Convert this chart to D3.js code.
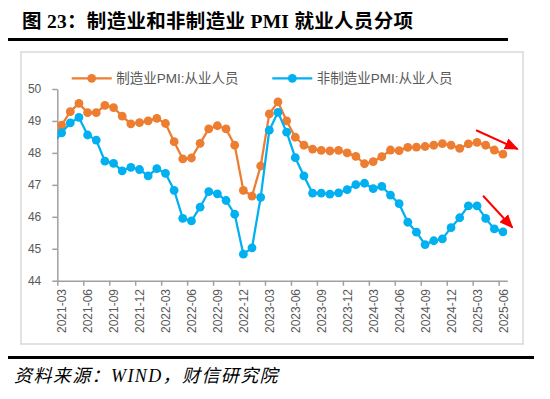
<!DOCTYPE html>
<html>
<head>
<meta charset="utf-8">
<script src="https://cdn.jsdelivr.net/npm/d3@7/dist/d3.min.js"></script>
<style>
	body { margin: 0; background: #fff; }
	text { font-family: "Liberation Sans", "Noto Sans CJK SC", sans-serif; }
</style>
</head>
<body>
<svg id="chart" width="550" height="399"></svg>
<script>
// months from 2021-02 (first one only shows as a clipped segment)
var months = [
	'2021-02', '2021-03', '2021-04', '2021-05', '2021-06', '2021-07', '2021-08', '2021-09', '2021-10', '2021-11', '2021-12',
	'2022-01', '2022-02', '2022-03', '2022-04', '2022-05', '2022-06', '2022-07', '2022-08', '2022-09', '2022-10', '2022-11', '2022-12',
	'2023-01', '2023-02', '2023-03', '2023-04', '2023-05', '2023-06', '2023-07', '2023-08', '2023-09', '2023-10', '2023-11', '2023-12',
	'2024-01', '2024-02', '2024-03', '2024-04', '2024-05', '2024-06', '2024-07', '2024-08', '2024-09', '2024-10', '2024-11', '2024-12',
	'2025-01', '2025-02', '2025-03', '2025-04', '2025-05', '2025-06'
];

var tickLabels = ['2021-03', '2021-06', '2021-09', '2021-12', '2022-03', '2022-06', '2022-09', '2022-12', '2023-03',
	'2023-06', '2023-09', '2023-12', '2024-03', '2024-06', '2024-09', '2024-12', '2025-03', '2025-06'];

var yTicks = [44, 45, 46, 47, 48, 49, 50];

var mfg = [48.45,
	48.87, 49.29, 49.55, 49.26, 49.26, 49.49, 49.42, 49.15, 48.91, 48.95, 49.0, 49.08, 48.92,
	48.35, 47.81, 47.84, 48.3, 48.75, 48.85, 48.75, 48.24, 46.83, 46.65, 47.59, 49.22, 49.6,
	49.0, 48.49, 48.24, 48.12, 48.08, 48.06, 48.08, 48.0, 47.89, 47.66, 47.73, 47.88, 48.09,
	48.07, 48.17, 48.18, 48.2, 48.24, 48.29, 48.24, 48.14, 48.28, 48.33, 48.24, 48.09, 47.96];

var nonMfg = [48.3,
	48.63, 48.94, 49.11, 48.56, 48.4, 47.74, 47.67, 47.44, 47.55, 47.48, 47.28, 47.51, 47.36,
	46.83, 45.95, 45.87, 46.3, 46.79, 46.72, 46.51, 46.08, 44.83, 45.03, 46.61, 48.71, 49.27,
	48.65, 47.85, 47.28, 46.74, 46.74, 46.71, 46.75, 46.85, 47.01, 47.05, 46.88, 46.95, 46.68,
	46.41, 45.83, 45.52, 45.13, 45.25, 45.31, 45.66, 45.97, 46.34, 46.34, 45.95, 45.62, 45.53];

var seriesNames = ['制造业PMI:从业人员', '非制造业PMI:从业人员'];
var seriesColors = ['#ED7D31', '#00B0F0'];

// red trend arrows, in [month index, value]
var arrows = [
	[[48.9, 48.71], [53.7, 48.12]],
	[[49.7, 46.66], [53.1, 45.66]]
];

var svg = d3.select('#chart');
var axisColor = '#a0a0a0';
var labelColor = '#595959';

// header / footer
svg.append('text')
	.attr('x', 22).attr('y', 27.5)
	.style('font-family', '"Liberation Serif", "Noto Sans CJK SC", serif')
	.style('font-weight', 'bold')
	.style('font-size', '19.5px')
	.style('letter-spacing', '0.3px')
	.attr('fill', '#000')
	.text('图 23：制造业和非制造业 PMI 就业人员分项');

svg.append('line')
	.attr('x1', 8).attr('x2', 508).attr('y1', 39.5).attr('y2', 39.5)
	.attr('stroke', '#000').attr('stroke-width', 3);

svg.append('rect')
	.attr('x', 21).attr('y', 52).attr('width', 502).attr('height', 292)
	.attr('fill', 'none').attr('stroke', '#d9d9d9').attr('stroke-width', 1.5);

svg.append('line')
	.attr('x1', 8).attr('x2', 534).attr('y1', 357.5).attr('y2', 357.5)
	.attr('stroke', '#000').attr('stroke-width', 3);

svg.append('text')
	.attr('x', 14).attr('y', 382)
	.style('font-family', '"Liberation Serif", "Noto Sans CJK SC", serif')
	.style('font-style', 'italic')
	.style('font-size', '18px')
	.style('letter-spacing', '1.4px')
	.attr('fill', '#000')
	.text('资料来源：WIND，财信研究院');

// scales
var x = d3.scaleLinear().domain([0.5, 52.5]).range([57.3, 507.3]);
var y = d3.scaleLinear().domain([44, 50]).range([280.7, 89]);

// y axis
var yAxis = svg.append('g')
	.attr('transform', 'translate(' + x(0.5) + ',0)')
	.call(d3.axisLeft(y).tickValues(yTicks).tickFormat(d3.format('d'))
		.tickSize(5).tickSizeOuter(0).tickPadding(11));
yAxis.selectAll('path, line').attr('stroke', axisColor).attr('stroke-width', 1.5);
yAxis.selectAll('text')
	.attr('fill', labelColor)
	.style('font-size', '12px');

// x axis: ticks on month boundaries, labels on the months
var tickIdx = tickLabels.map(function(m) { return months.indexOf(m); });
var xAxis = svg.append('g')
	.attr('transform', 'translate(0,' + y(44) + ')')
	.call(d3.axisBottom(x)
		.tickValues(tickIdx.map(function(k) { return k - 0.5; }))
		.tickFormat('')
		.tickSize(5)
		.tickSizeOuter(0));
xAxis.selectAll('path, line').attr('stroke', axisColor).attr('stroke-width', 1.5);

svg.append('g').selectAll('text')
	.data(tickLabels).enter().append('text')
		.attr('transform', function(d) { return 'translate(' + (x(months.indexOf(d)) + 0.5) + ',289) rotate(-90)'; })
		.attr('text-anchor', 'end')
		.attr('dy', '0.35em')
		.attr('fill', labelColor)
		.style('font-size', '12px')
		.text(function(d) { return d; });

// lines
svg.append('clipPath').attr('id', 'plotClip')
	.append('rect')
		.attr('x', x(0.5)).attr('y', 0)
		.attr('width', x(52.5) - x(0.5)).attr('height', 399);

var line = d3.line()
	.x(function(d, i) { return x(i); })
	.y(function(d) { return y(d); });

var plot = svg.append('g').attr('clip-path', 'url(#plotClip)');

[mfg, nonMfg].forEach(function(values, s) {
	plot.append('path')
		.datum(values)
		.attr('d', line)
		.attr('fill', 'none')
		.attr('stroke', seriesColors[s])
		.attr('stroke-width', 2.25)
		.attr('stroke-linejoin', 'round');

	plot.selectAll('.dot' + s)
		.data(values.map(function(v, i) { return [i, v]; }).slice(1))
		.enter().append('circle')
			.attr('cx', function(d) { return x(d[0]); })
			.attr('cy', function(d) { return y(d[1]); })
			.attr('r', 4.4)
			.attr('fill', seriesColors[s]);
});

// arrows
svg.append('defs').append('marker')
	.attr('id', 'arrowHead')
	.attr('viewBox', '0 0 12 10')
	.attr('refX', 11).attr('refY', 5)
	.attr('markerUnits', 'userSpaceOnUse')
	.attr('markerWidth', 14).attr('markerHeight', 12)
	.attr('orient', 'auto')
	.append('path')
		.attr('d', 'M0,0 L12,5 L0,10 Z')
		.attr('fill', '#FF0000');

arrows.forEach(function(a) {
	svg.append('line')
		.attr('x1', x(a[0][0])).attr('y1', y(a[0][1]))
		.attr('x2', x(a[1][0])).attr('y2', y(a[1][1]))
		.attr('stroke', '#FF0000')
		.attr('stroke-width', 2)
		.attr('marker-end', 'url(#arrowHead)');
});

// legend
var legend = svg.append('g');
var legendX = [71.7, 272.3];
seriesNames.forEach(function(name, s) {
	var g = legend.append('g').attr('transform', 'translate(' + legendX[s] + ',78.3)');
	g.append('line')
		.attr('x1', 0).attr('x2', 40)
		.attr('stroke', seriesColors[s]).attr('stroke-width', 2.25);
	g.append('circle')
		.attr('cx', 20).attr('r', 4.4)
		.attr('fill', seriesColors[s]);
	g.append('text')
		.attr('x', 44.5).attr('y', 4.5)
		.attr('fill', labelColor)
		.style('font-size', '13.5px')
		.text(name);
});
</script>
</body>
</html>
